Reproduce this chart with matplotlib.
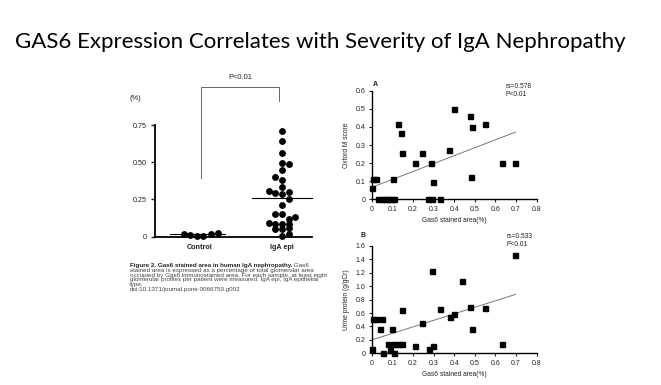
import matplotlib
matplotlib.use("Agg")
import matplotlib.pyplot as plt
import numpy as np

# ---------------- data ----------------
title = "GAS6 Expression Correlates with Severity of IgA Nephropathy"

groups = ["Control", "IgA epi"]
control_vals = [0.018, 0.012, 0.005, 0.008, 0.015, 0.027]
control_slot = [-2.4, -1.5, -0.5, 0.5, 1.6, 2.7]
control_median = 0.016
iga_vals = [0.71, 0.645, 0.56, 0.497, 0.486, 0.448, 0.399, 0.381, 0.336,
            0.307, 0.296, 0.285, 0.302, 0.253, 0.213, 0.150, 0.150, 0.132,
            0.118, 0.092, 0.085, 0.085, 0.082, 0.055, 0.050, 0.056, 0.015, 0.002]
iga_slot = [0, 0, 0, 0, 1, 0, -1, 0, 0,
            -2, -1, 0, 1, 1, 0, -1, 0, 2,
            1, -2, -1, 0, 1, -1, 0, 1, 1, 0]
iga_median = 0.26
left_yticks = [0, 0.25, 0.50, 0.75]
left_yticklabels = ["0", "0.25", "0.50", "0.75"]

# Panel A: Oxford M score vs Gas6 stained area
a_x = [0.0, 0.005, 0.02, 0.03, 0.05, 0.065, 0.08, 0.095, 0.11, 0.105,
       0.126, 0.142, 0.145, 0.21, 0.242, 0.286, 0.275, 0.29, 0.299, 0.331,
       0.377, 0.399, 0.483, 0.477, 0.488, 0.549, 0.632, 0.697]
a_y = [0.061, 0.11, 0.11, 0.0, 0.0, 0.0, 0.0, 0.0, 0.0, 0.11,
       0.416, 0.366, 0.254, 0.202, 0.254, 0.202, 0.0, 0.0, 0.098, 0.0,
       0.272, 0.5, 0.125, 0.462, 0.401, 0.416, 0.202, 0.202]
a_fit = (0.066, 0.438)   # intercept, slope
a_stats = "rs=0.578\nP<0.01"

# Panel B: urine protein vs Gas6 stained area
b_x = [0.003, 0.008, 0.019, 0.04, 0.051, 0.053, 0.078, 0.089, 0.10, 0.108,
       0.11, 0.129, 0.145, 0.145, 0.21, 0.245, 0.278, 0.294, 0.299, 0.331,
       0.38, 0.40, 0.44, 0.477, 0.486, 0.549, 0.633, 0.697]
b_y = [0.064, 0.51, 0.51, 0.364, 0.51, 0.0, 0.134, 0.05, 0.36, 0.01,
       0.134, 0.134, 0.134, 0.65, 0.114, 0.45, 0.064, 1.232, 0.114, 0.666,
       0.547, 0.587, 1.083, 0.696, 0.363, 0.676, 0.139, 1.466]
b_fit = (0.199, 0.974)
b_stats = "rs=0.533\nP<0.01"

caption_bold = "Figure 2. Gas6 stained area in human IgA nephropathy."
caption_lines = [
    " Gas6",
    "stained area is expressed as a percentage of total glomerular area",
    "occupied by Gas6 immunostained area. For each sample, at least eight",
    "glomerular profiles per patient were measured. IgA epi, IgA epithelial",
    "type.",
    "doi:10.1371/journal.pone.0066759.g002",
]

# ---------------- figure ----------------
W, H = 661, 385
fig = plt.figure(figsize=(W / 100, H / 100), dpi=100)
fig.patch.set_facecolor("white")
TXT = "#222222"
plt.rcParams["font.family"] = ["Liberation Sans", "DejaVu Sans"]


def fx(px):
    return px / W


def fy(py):
    return 1 - py / H


fig.text(fx(15), fy(42), title, family=["Lato", "DejaVu Sans"], fontsize=16.0,
         color="black", ha="left", va="center")

# ---- left dot plot ----
axL = fig.add_axes([fx(155), fy(236.7), fx(312) - fx(155), fy(125) - fy(236.7)])
axL.set_xlim(-0.549, 1.366)
axL.set_ylim(0, 0.75)
slot_w = 0.081
cx = [0 + s * slot_w for s in control_slot]
ix = [1 + s * slot_w for s in iga_slot]
axL.plot(cx, control_vals, "o", color="black", ms=3.9, clip_on=False, zorder=3)
axL.plot(ix, iga_vals, "o", color="black", ms=3.9, clip_on=False, zorder=3)
axL.plot([-0.366, 0.305], [control_median] * 2, color="black", lw=0.8, clip_on=False)
axL.plot([0.64, 1.366], [iga_median] * 2, color="black", lw=0.8, clip_on=False)
for s in ["top", "right"]:
    axL.spines[s].set_visible(False)
for s in ["left", "bottom"]:
    axL.spines[s].set_linewidth(1.3)
axL.set_yticks(left_yticks)
axL.set_yticklabels(left_yticklabels)
axL.set_xticks([0, 1])
axL.set_xticklabels(groups, fontweight="bold")
axL.tick_params(axis="y", labelsize=5.2, length=3, width=1, pad=3, colors=TXT)
axL.tick_params(axis="x", labelsize=5.2, length=0, pad=5, colors=TXT)
# significance bracket
bx = [0.01, 0.01, 0.96, 0.96]
by = [0.394, 1.007, 1.007, 0.913]
axL.plot(bx, by, color="#666666", lw=0.7, clip_on=False)
axL.text(0.49, 1.072, "P<0.01", fontsize=5.4, ha="center", va="center", color=TXT)
axL.text(-0.79, 0.925, "(%)", fontsize=5.4, ha="center", va="center", color=TXT)

# caption
r = fig.canvas.get_renderer()
cap_fs = 4.5
ys = [265.7, 270.7, 275.3, 280, 284.7, 289]
t0 = fig.text(fx(130), fy(ys[0]), caption_bold, fontsize=cap_fs, fontweight="bold",
              color=TXT, ha="left", va="center")
bb = t0.get_window_extent(renderer=r)
fig.text(bb.x1 / W, fy(ys[0]), caption_lines[0], fontsize=cap_fs, color="#444444",
         ha="left", va="center")
for line, yy in zip(caption_lines[1:], ys[1:]):
    fig.text(fx(130), fy(yy), line, fontsize=cap_fs, color="#444444", ha="left", va="center")


def scatter_panel(ax, xs, ysv, fit, ymax, yticks, ylabel, stats, letter,
                  letter_pos, stats_pos):
    ax.set_xlim(0, 0.8)
    ax.set_ylim(0, ymax)
    ax.plot(xs, ysv, "s", color="black", ms=3.6, clip_on=False, zorder=3)
    xx = np.array([0, max(xs)])
    ax.plot(xx, fit[0] + fit[1] * xx, color="#777777", lw=0.7)
    for s in ["top", "right"]:
        ax.spines[s].set_visible(False)
    for s in ["left", "bottom"]:
        ax.spines[s].set_linewidth(1.0)
    ax.set_xticks(np.arange(0, 0.81, 0.1))
    ax.set_xticklabels(["0", "0.1", "0.2", "0.3", "0.4", "0.5", "0.6", "0.7", "0.8"])
    ax.set_yticks(yticks)
    ax.set_yticklabels([("0" if v == 0 else f"{v:.1f}") for v in yticks])
    ax.tick_params(labelsize=5.0, length=2.5, width=0.8, pad=2, colors=TXT)
    ax.set_ylabel(ylabel, fontsize=4.8, color=TXT, labelpad=4)
    ax.set_xlabel("Gas6 stained area(%)", fontsize=4.8, color=TXT, labelpad=3)
    ax.text(*letter_pos, letter, fontsize=5, fontweight="bold", ha="left",
            va="center", color=TXT)
    ax.text(*stats_pos, stats, fontsize=4.8, ha="left", va="top", color=TXT,
            linespacing=1.2)


axA = fig.add_axes([fx(371.7), fy(199.3), fx(536.7) - fx(371.7), fy(90.7) - fy(199.3)])
scatter_panel(axA, a_x, a_y, a_fit, 0.6, np.arange(0, 0.61, 0.1), "Oxford M score",
              a_stats, "A", (0.004, 0.632), (0.648, 0.645))

axB = fig.add_axes([fx(371.7), fy(353.3), fx(536.7) - fx(371.7), fy(246) - fy(353.3)])
scatter_panel(axB, b_x, b_y, b_fit, 1.6, np.arange(0, 1.61, 0.2), "Urine protein (g/gCr)",
              b_stats, "B", (-0.055, 1.764), (0.652, 1.79))

fig.savefig("out.png", dpi=100, facecolor="white")
